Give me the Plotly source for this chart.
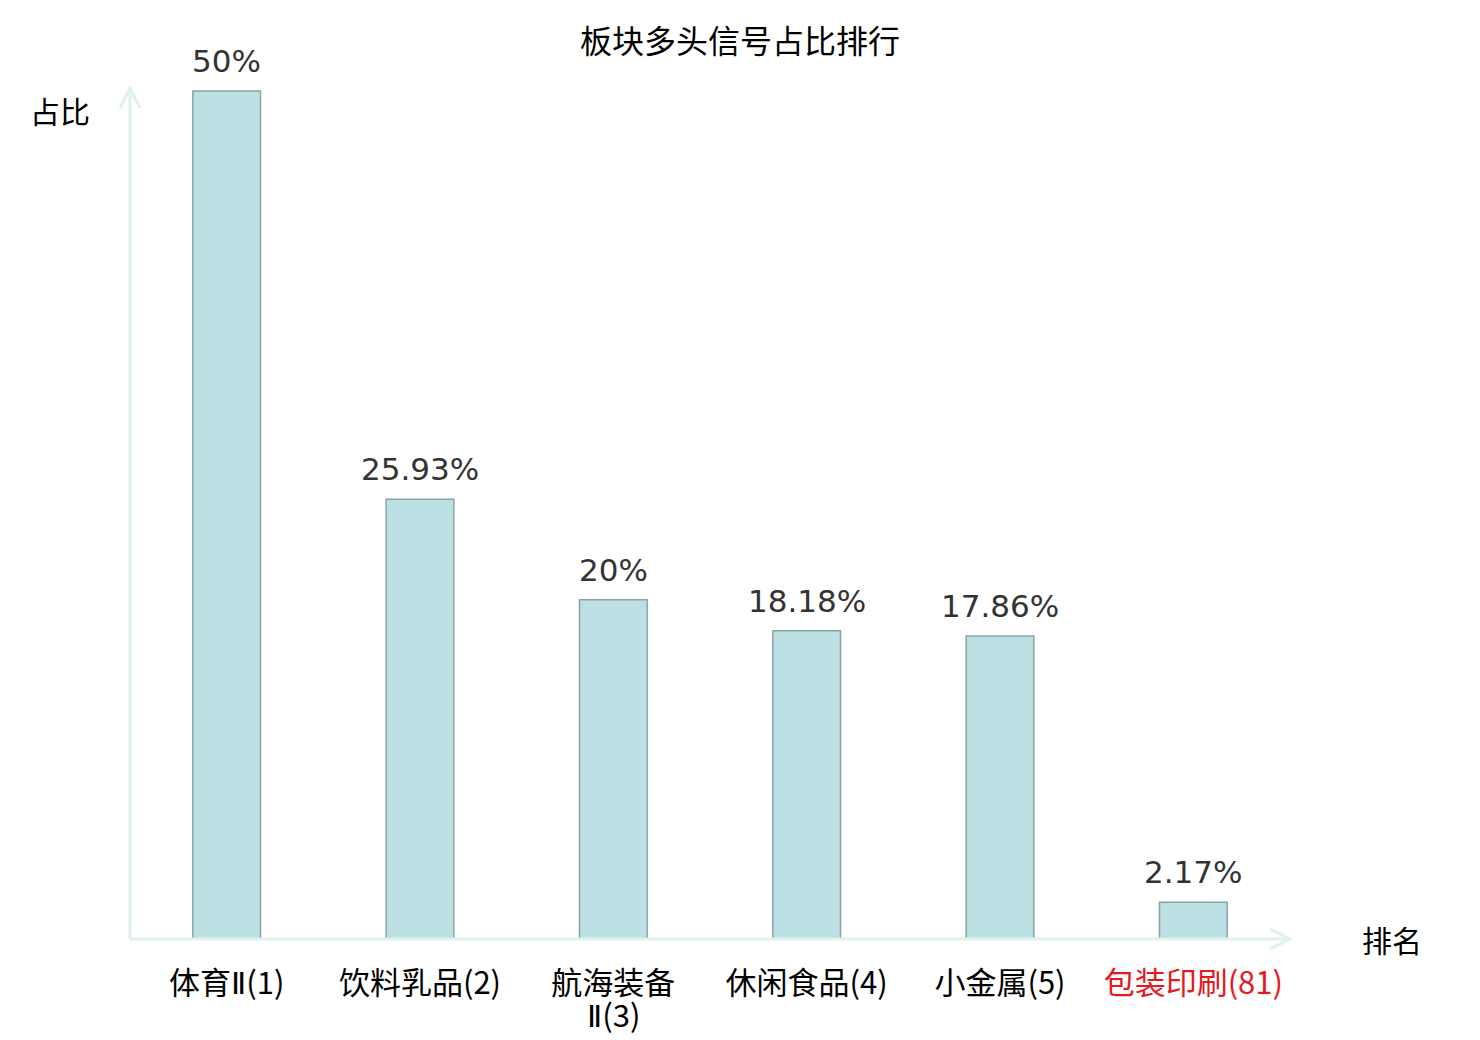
"""板块多头信号占比排行 - bar chart"""
import plotly.graph_objs as go

# data
sectors = ['体育Ⅱ', '饮料乳品', '航海装备<br>Ⅱ', '休闲食品', '小金属', '包装印刷']
ranks = [1, 2, 3, 4, 5, 81]
shares = [50, 25.93, 20, 18.18, 17.86, 2.17]
label_colors = ['black', 'black', 'black', 'black', 'black', '#e6191e']

AXIS_COLOR = '#dff2f0'
CJK = 'Noto Sans CJK SC'
ROMAN = "<span style='font-family:DejaVu Sans'>Ⅱ</span>"

W, H = 1472, 1032
L, R, T, B = 122, 190, 80, 101
PH = H - T - B

xs = list(range(len(sectors)))
full = ['%s(%d)' % (s, r) for s, r in zip(sectors, ranks)]
first_lines = [f.split('<br>')[0] for f in full]
second_lines = [f.split('<br>')[1] if '<br>' in f else '' for f in full]
ticktext = ["<span style='color:%s'>%s</span>" % (c, t.replace('Ⅱ', ROMAN))
            for t, c in zip(first_lines, label_colors)]

bars = go.Bar(x=xs, y=shares, width=0.35,
              marker=dict(color='#bce0e3',
                          line=dict(color='#8aa4a6', width=1.5)),
              hoverinfo='skip')

# value labels above bars
annotations = [dict(x=x, y=v, xref='x', yref='y', text='%g%%' % v,
                    showarrow=False, yanchor='bottom', yshift=10,
                    font=dict(family='DejaVu Sans', size=31, color='#333333'))
               for x, v in zip(xs, shares)]
# wrapped second line of long tick labels
annotations += [dict(x=x, y=0, xref='x', yref='paper', text=t.replace('Ⅱ', ROMAN),
                     showarrow=False, yanchor='middle', yshift=-74,
                     font=dict(family=CJK, size=31, color=c))
                for x, t, c in zip(xs, second_lines, label_colors) if t]
annotations += [
    dict(x=0, y=(T + PH - 102) / PH, xref='paper', yref='paper', text='占比',
         showarrow=False, xanchor='right', yanchor='middle', xshift=-38,
         font=dict(family=CJK, size=30, color='black')),
    dict(x=1, y=0, xref='paper', yref='y', text='排名',
         showarrow=False, xanchor='left', yanchor='middle', xshift=70,
         font=dict(family=CJK, size=30, color='black')),
]

# axis lines with open arrow heads
shapes = [
    dict(type='line', xref='paper', yref='paper', x0=0, x1=1, y0=0, y1=0,
         line=dict(color=AXIS_COLOR, width=3)),
    dict(type='line', xref='paper', yref='paper', x0=0, x1=0, y0=0, y1=1,
         line=dict(color=AXIS_COLOR, width=3)),
    dict(type='path', xref='paper', yref='paper', xsizemode='pixel',
         ysizemode='pixel', xanchor=1, yanchor=0,
         path='M -20,10 L 0,0 L -20,-10', line=dict(color=AXIS_COLOR, width=3)),
    dict(type='path', xref='paper', yref='paper', xsizemode='pixel',
         ysizemode='pixel', xanchor=0, yanchor=1,
         path='M -10,-20 L 0,0 L 10,-20', line=dict(color=AXIS_COLOR, width=3)),
]

layout = go.Layout(
    width=W, height=H,
    margin=dict(l=L, r=R, t=T, b=B),
    paper_bgcolor='white', plot_bgcolor='white',
    title=dict(text='板块多头信号占比排行', x=732 / W, xanchor='center',
               y=1 - 34 / H, yanchor='middle',
               font=dict(family=CJK, size=32, color='black')),
    xaxis=dict(range=[-0.5, len(sectors) - 0.5], tickvals=xs, ticktext=ticktext,
               showgrid=False, zeroline=False, showline=False, ticks='',
               ticklabelstandoff=23,
               tickfont=dict(family=CJK, size=31, color='black')),
    yaxis=dict(range=[0, 50 * PH / 848], showgrid=False, zeroline=False,
               showline=False, showticklabels=False, ticks=''),
    showlegend=False,
    annotations=annotations,
    shapes=shapes,
)

fig = go.Figure(data=[bars], layout=layout)
fig.write_html('out.html')
